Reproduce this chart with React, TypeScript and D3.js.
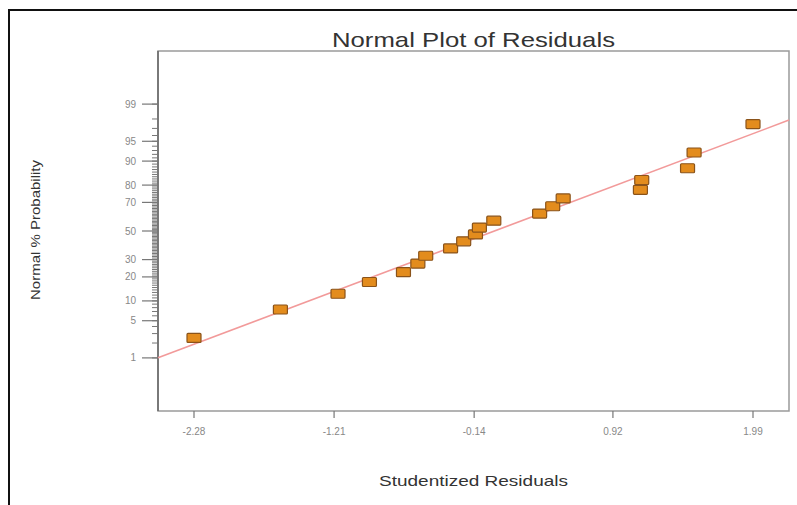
import React, { useEffect, useRef } from "react";
import * as d3 from "d3";

// studentized residuals (sorted) and their normal % probability
const residuals = [-2.28, -1.62, -1.18, -0.94, -0.68, -0.57, -0.51, -0.32, -0.22, -0.13,
  -0.1, 0.01, 0.36, 0.46, 0.54, 1.13, 1.14, 1.49, 1.54, 1.99];
const probabilities = [2.5, 7.5, 12.5, 17.5, 22.5, 27.5, 32.5, 37.5, 42.5, 47.5,
  52.5, 57.5, 62.5, 67.5, 72.5, 77.5, 82.5, 87.5, 92.5, 97.5];

const xTicks = [-2.28, -1.21, -0.14, 0.92, 1.99];
const yMajorTicks = [1, 5, 10, 20, 30, 50, 70, 80, 90, 95, 99];
const yMinorTicks = d3.range(1, 100);

// reference line ends
const fitResidual = [-2.555, 2.265];
const fitProbability = [1.01, 97.9];

// inverse normal cdf (Acklam)
function probit(p: number) {
  const a = [-39.69683028665376, 220.9460984245205, -275.9285104469687, 138.357751867269, -30.66479806614716, 2.506628277459239];
  const b = [-54.47609879822406, 161.5858368580409, -155.6989798598866, 66.80131188771972, -13.28068155288572];
  const c = [-0.007784894002430293, -0.3223964580411365, -2.400758277161838, -2.549732539343734, 4.374664141464968, 2.938163982698783];
  const d = [0.007784695709041462, 0.3224671290700398, 2.445134137142996, 3.754408661907416];
  const pl = 0.02425;
  if (p < pl) {
    const q = Math.sqrt(-2 * Math.log(p));
    return (((((c[0] * q + c[1]) * q + c[2]) * q + c[3]) * q + c[4]) * q + c[5]) / ((((d[0] * q + d[1]) * q + d[2]) * q + d[3]) * q + 1);
  }
  if (p > 1 - pl) {
    const q = Math.sqrt(-2 * Math.log(1 - p));
    return -(((((c[0] * q + c[1]) * q + c[2]) * q + c[3]) * q + c[4]) * q + c[5]) / ((((d[0] * q + d[1]) * q + d[2]) * q + d[3]) * q + 1);
  }
  const q = p - 0.5;
  const r = q * q;
  return (((((a[0] * r + a[1]) * r + a[2]) * r + a[3]) * r + a[4]) * r + a[5]) * q / (((((b[0] * r + b[1]) * r + b[2]) * r + b[3]) * r + b[4]) * r + 1);
}

const W = 797;
const H = 505;
const margin = { top: 51, right: 8, bottom: 94, left: 158 };
const font = "'Liberation Sans', Arial, sans-serif";

export default function App() {
  const ref = useRef<SVGSVGElement>(null);

  useEffect(() => {
    const svg = d3.select(ref.current);
    svg.selectAll("*").remove();

    const x = d3.scaleLinear().domain([-2.555, 2.265]).range([margin.left, W - margin.right]);
    const zScale = d3.scaleLinear().domain([-3.3, 3.3]).range([H - margin.bottom, margin.top]);
    const y = (p: number) => zScale(probit(p / 100));
    const cx = (margin.left + W - margin.right) / 2;

    // outer frame
    svg.append("path").attr("d", `M9,${H} V10 H${W}`).attr("fill", "none").attr("stroke", "#111").attr("stroke-width", 2);

    // plot area border
    svg.append("rect")
      .attr("x", margin.left).attr("y", margin.top)
      .attr("width", W - margin.right - margin.left).attr("height", H - margin.bottom - margin.top)
      .attr("fill", "none").attr("stroke", "#9a9a9a").attr("stroke-width", 1.5);

    // y axis
    const yAxis = svg.append("g").attr("transform", `translate(${margin.left},0)`);
    yAxis.append("line").attr("y1", margin.top).attr("y2", H - margin.bottom).attr("stroke", "#666").attr("stroke-width", 1.5);
    yAxis.selectAll("line.minor").data(yMinorTicks).join("line").attr("class", "minor")
      .attr("x1", -6).attr("x2", 0).attr("y1", d => y(d)).attr("y2", d => y(d))
      .attr("stroke", "#777").attr("stroke-width", 1);
    yAxis.selectAll("line.major").data(yMajorTicks).join("line").attr("class", "major")
      .attr("x1", -16).attr("x2", 0).attr("y1", d => y(d)).attr("y2", d => y(d))
      .attr("stroke", "#777").attr("stroke-width", 1.2);
    yAxis.selectAll("text").data(yMajorTicks).join("text")
      .attr("x", -22).attr("y", d => y(d)).attr("dy", "0.35em").attr("text-anchor", "end")
      .attr("font-family", font).attr("font-size", 10).attr("fill", "#888").text(d => d);

    // x axis
    const xAxis = svg.append("g").attr("transform", `translate(0,${H - margin.bottom})`);
    xAxis.selectAll("line").data(xTicks).join("line")
      .attr("x1", d => x(d)).attr("x2", d => x(d)).attr("y1", 0).attr("y2", 7)
      .attr("stroke", "#777").attr("stroke-width", 1.2);
    xAxis.selectAll("text").data(xTicks).join("text")
      .attr("x", d => x(d)).attr("y", 20).attr("dy", "0.35em").attr("text-anchor", "middle")
      .attr("font-family", font).attr("font-size", 10).attr("fill", "#888").text(d => d.toFixed(2));

    // fit line
    const fit = fitResidual.map((r, i) => [x(r), y(fitProbability[i])] as [number, number]);
    svg.append("path").attr("d", d3.line()(fit)).attr("stroke", "#f29a9a").attr("stroke-width", 1.6).attr("fill", "none");

    // points
    svg.selectAll("rect.pt").data(residuals).join("rect").attr("class", "pt")
      .attr("x", d => x(d) - 7).attr("y", (d, i) => y(probabilities[i]) - 4.5)
      .attr("width", 14).attr("height", 9).attr("rx", 1)
      .attr("fill", "#e38c1d").attr("stroke", "#8a531a").attr("stroke-width", 1.2);

    // titles
    svg.append("text").attr("x", cx).attr("y", 47).attr("text-anchor", "middle")
      .attr("font-family", font).attr("font-size", 21).attr("fill", "#333")
      .attr("textLength", 283).attr("lengthAdjust", "spacingAndGlyphs").text("Normal Plot of Residuals");
    svg.append("text").attr("x", cx).attr("y", 486).attr("text-anchor", "middle")
      .attr("font-family", font).attr("font-size", 15).attr("fill", "#333")
      .attr("textLength", 189).attr("lengthAdjust", "spacingAndGlyphs").text("Studentized Residuals");
    svg.append("text").attr("transform", `translate(40,230) rotate(-90)`).attr("text-anchor", "middle")
      .attr("font-family", font).attr("font-size", 13).attr("fill", "#333")
      .attr("textLength", 140).attr("lengthAdjust", "spacingAndGlyphs").text("Normal % Probability");
  }, []);

  return (
    <svg ref={ref} width={W} height={H}
      style={{ position: "absolute", left: 0, top: 0, background: "#fff" }} />
  );
}
